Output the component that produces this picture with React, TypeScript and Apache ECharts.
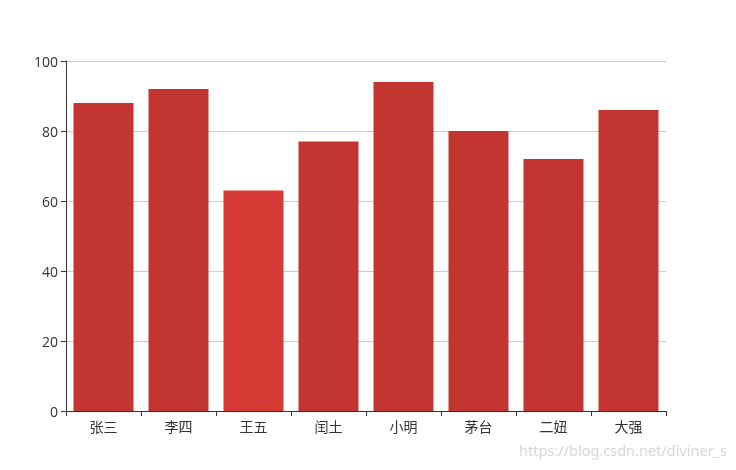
import React, { useEffect, useRef } from "react";
import * as echarts from "echarts";

const categories = ["张三", "李四", "王五", "闰土", "小明", "茅台", "二妞", "大强"];
const scores = [88, 92, 63, 77, 94, 80, 72, 86];
const highlightIndex = 2;
const yTicks = { min: 0, max: 100, interval: 20 };

export default function App() {
  const ref = useRef<HTMLDivElement>(null);
  useEffect(() => {
    if (!ref.current) return;
    const chart = echarts.init(ref.current, undefined, { renderer: "svg" });
    chart.setOption({
      animation: false,
      textStyle: { fontFamily: "'Noto Sans CJK SC', 'Noto Sans', sans-serif" },
      grid: { left: 66, right: 70, top: 61, bottom: 59, containLabel: false },
      xAxis: {
        type: "category",
        data: categories,
        axisLine: { lineStyle: { color: "#333" } },
        axisTick: { show: true, alignWithLabel: false },
        axisLabel: { color: "#333", fontSize: 14, margin: 8 },
      },
      yAxis: {
        type: "value",
        min: yTicks.min,
        max: yTicks.max,
        interval: yTicks.interval,
        axisLine: { show: true, lineStyle: { color: "#333" } },
        axisTick: { show: true },
        axisLabel: { color: "#333", fontSize: 14, margin: 8, fontFamily: "'Open Sans', sans-serif" },
        splitLine: { lineStyle: { color: "#ccc" } },
      },
      series: [
        {
          type: "bar",
          barCategoryGap: "20%",
          data: scores.map((v, i) => ({
            value: v,
            itemStyle: { color: i === highlightIndex ? "#d63a35" : "#c23531" },
          })),
        },
      ],
      graphic: [
        {
          type: "text",
          right: 9,
          top: 442,
          style: {
            text: "https://blog.csdn.net/diviner_s",
            fill: "#d6d6d6",
            fontSize: 14.5,
            fontFamily: "'Noto Sans', sans-serif",
          },
        },
      ],
    });
    return () => chart.dispose();
  }, []);
  return (
    <div
      ref={ref}
      style={{ position: "fixed", left: 0, top: 0, width: 736, height: 470 }}
    />
  );
}
